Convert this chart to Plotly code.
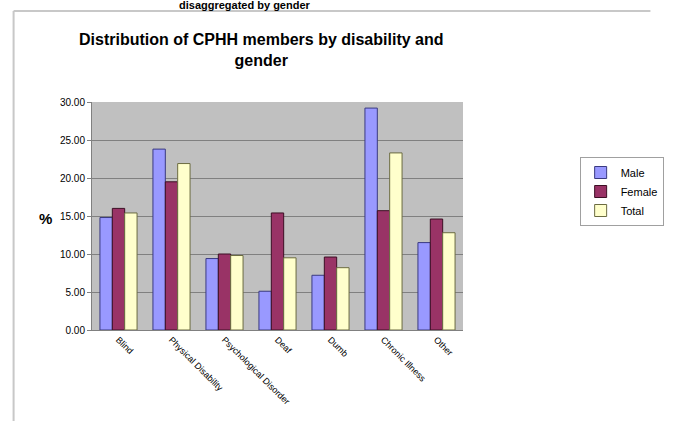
import plotly.graph_objects as go

categories = ["Blind", "Physical Disability", "Psychological Disorder", "Deaf", "Dumb", "Chronic Illness", "Other"]
male = [14.8, 23.8, 9.4, 5.1, 7.2, 29.2, 11.5]
female = [16.0, 19.5, 10.0, 15.4, 9.6, 15.7, 14.6]
total = [15.4, 21.9, 9.8, 9.5, 8.2, 23.3, 12.8]
tick_vals = [0, 5, 10, 15, 20, 25, 30]
tick_text = ["0.00", "5.00", "10.00", "15.00", "20.00", "25.00", "30.00"]

FONT = "Liberation Sans, Arial, sans-serif"

fig = go.Figure()
series = [("Male", male, "#9999ff", "#3a3a80"),
          ("Female", female, "#993366", "#3d0f24"),
          ("Total", total, "#ffffcc", "#6b6b40")]
for name, vals, col, edge in series:
    fig.add_trace(go.Bar(x=categories, y=vals, name=name,
                         marker=dict(color=col, line=dict(color=edge, width=1))))

W, H = 676, 421
L, R, T, B = 92, 196, 102, 91
pw = W - L - R
ph = H - T - B

def px(x):
    return (x - L) / pw

def py(y):
    return (H - B - y) / ph

fig.update_layout(
    width=W, height=H,
    margin=dict(l=L, r=R, t=T, b=B),
    paper_bgcolor="white",
    plot_bgcolor="#c0c0c0",
    barmode="group",
    bargap=0.30,
    bargroupgap=0.0,
    font=dict(family=FONT, color="black"),
    showlegend=True,
    legend=dict(x=px(602), y=py(157), xanchor="left", yanchor="top",
                bgcolor="white", bordercolor="#a0a0a0", borderwidth=1,
                font=dict(size=11, family=FONT), itemwidth=30,
                tracegroupgap=0),
    xaxis=dict(tickangle=45, tickfont=dict(size=9, family=FONT),
               showline=True, linecolor="#808080", ticks="",
               showgrid=False),
    yaxis=dict(range=[0, 30], tickvals=tick_vals, ticktext=tick_text,
               tickfont=dict(size=10, family=FONT),
               showgrid=True, gridcolor="#808080", gridwidth=1,
               showline=True, linecolor="#808080", ticks="outside",
               ticklen=4, tickcolor="#808080", zeroline=False),
    shapes=[
        dict(type="line", xref="paper", yref="paper",
             x0=px(10), x1=px(676), y0=py(11), y1=py(11),
             line=dict(color="#c8c8c8", width=2)),
        dict(type="line", xref="paper", yref="paper",
             x0=px(10), x1=px(10), y0=py(11), y1=py(421),
             line=dict(color="#c8c8c8", width=2)),
    ],
    annotations=[
        dict(text="<b>disaggregated by gender</b>", xref="paper", yref="paper",
             x=px(252), y=py(5), xanchor="center", yanchor="middle",
             showarrow=False, font=dict(size=11, family=FONT)),
        dict(text="<b>Distribution of CPHH members by disability and<br>gender</b>",
             xref="paper", yref="paper", x=px(269), y=py(50),
             xanchor="center", yanchor="middle", showarrow=False,
             font=dict(size=16, family=FONT)),
        dict(text="<b>%</b>", xref="paper", yref="paper", x=px(43), y=py(218),
             xanchor="center", yanchor="middle", showarrow=False,
             font=dict(size=15, family=FONT)),
    ],
)

fig.write_html("out.html")
